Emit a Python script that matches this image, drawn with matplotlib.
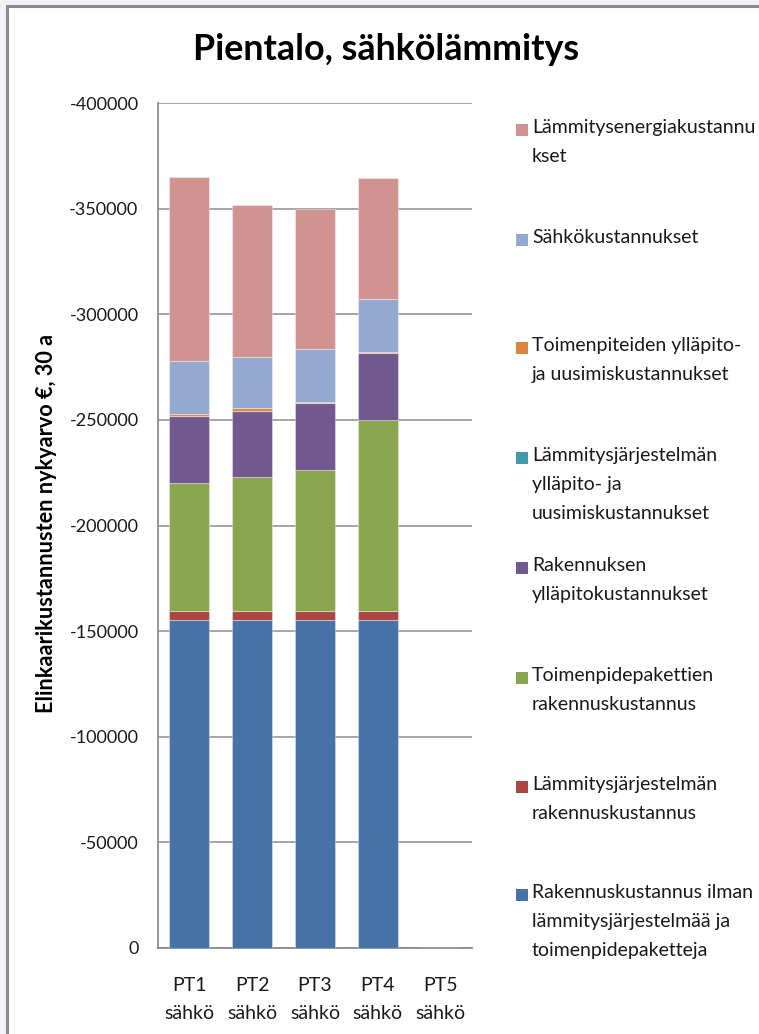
import matplotlib
matplotlib.use("Agg")
import matplotlib.pyplot as plt
from matplotlib.patches import Rectangle
import numpy as np

plt.rcParams['font.family'] = ['Lato', 'DejaVu Sans']

# Categories and cost components (present value, €, 30 years; costs are negative)
categories = ["PT1\nsähkö", "PT2\nsähkö", "PT3\nsähkö", "PT4\nsähkö", "PT5\nsähkö"]

rakennus = [-155500, -155500, -155500, -155500, 0]
lammitys_rak = [-4000, -4000, -4000, -4000, 0]
toimenpide_rak = [-60600, -63300, -66900, -90600, 0]
rakennus_yllapito = [-31500, -31500, -31700, -31700, 0]
lammitys_yllapito = [0, 0, 0, 0, 0]
toimenpide_yllapito = [-1000, -1200, -500, -500, 0]
sahko = [-25400, -24500, -25100, -24800, 0]
lammitysenergia = [-86800, -71700, -66100, -57200, 0]

series = [
    ("Rakennuskustannus ilman\nlämmitysjärjestelmää ja\ntoimenpidepaketteja", rakennus, "#4572A7"),
    ("Lämmitysjärjestelmän\nrakennuskustannus", lammitys_rak, "#AA4643"),
    ("Toimenpidepakettien\nrakennuskustannus", toimenpide_rak, "#89A54E"),
    ("Rakennuksen\nylläpitokustannukset", rakennus_yllapito, "#71588F"),
    ("Lämmitysjärjestelmän\nylläpito- ja\nuusimiskustannukset", lammitys_yllapito, "#4198AF"),
    ("Toimenpiteiden ylläpito-\nja uusimiskustannukset", toimenpide_yllapito, "#DB843D"),
    ("Sähkökustannukset", sahko, "#93A9CF"),
    ("Lämmitysenergiakustannu\nkset", lammitysenergia, "#D19392"),
]

W, H = 759, 1034
fig = plt.figure(figsize=(W / 100, H / 100), dpi=100)
fig.patch.set_facecolor("#f1f2fb")

# White chart area with grey frame
fig.add_artist(Rectangle((7 / W, -0.1), 1.2, 1.1 - 6 / H, transform=fig.transFigure,
                         facecolor="white", edgecolor="#8a8a8a", linewidth=2.2, zorder=0))

ax = fig.add_axes([158 / W, 86 / H, 314 / W, 845 / H])
ax.set_facecolor("white")

x = np.arange(len(categories))
bottom = np.zeros(len(categories))
for label, vals, color in series:
    vals = np.array(vals, dtype=float)
    ax.bar(x, vals, width=0.64, bottom=bottom, color=color,
           edgecolor=(1, 1, 1, 0.35), linewidth=0.8, zorder=3)
    bottom += vals

ax.set_xlim(-0.5, len(categories) - 0.5)
ax.set_ylim(0, -400000)
yt = np.arange(0, -400001, -50000)
ax.set_yticks(yt)
ax.set_yticklabels([str(int(v)) for v in yt], fontsize=13, color="#1a1a1a")
ax.set_xticks(x)
ax.set_xticklabels(categories, fontsize=14, color="#1a1a1a", linespacing=1.75)
ax.tick_params(axis="y", length=0, pad=14)
ax.tick_params(axis="x", length=0, pad=21)

ax.yaxis.grid(True, color="#a6a6a6", linewidth=1.4, zorder=0)
ax.set_axisbelow(True)
for s in ["top", "right"]:
    ax.spines[s].set_visible(False)
for s in ["left", "bottom"]:
    ax.spines[s].set_color("#8c8c8c")
    ax.spines[s].set_linewidth(1.3)

fig.text(386 / W, 1 - 49 / H, "Pientalo, sähkölämmitys", fontsize=25.8,
         fontweight="bold", ha="center", va="center", color="black")
fig.text(47 / W, 1 - 523 / H, "Elinkaarikustannusten nykyarvo €, 30 a", fontsize=15.6,
         fontweight="bold", rotation=90, ha="center", va="center", color="black")

# Legend, top entry first
first_line_y = [130, 240, 348, 458, 568, 678, 787, 895]
for (label, vals, color), yy in zip(reversed(series), first_line_y):
    fig.add_artist(Rectangle((516 / W, 1 - (yy + 6) / H), 12 / W, 12 / H,
                             transform=fig.transFigure, facecolor=color,
                             edgecolor="none", zorder=3))
    fig.text(532 / W, 1 - (yy - 11) / H, label, fontsize=14, ha="left", va="top",
             linespacing=1.85, color="#1a1a1a")

fig.savefig("out.png", dpi=100, facecolor=fig.get_facecolor())
